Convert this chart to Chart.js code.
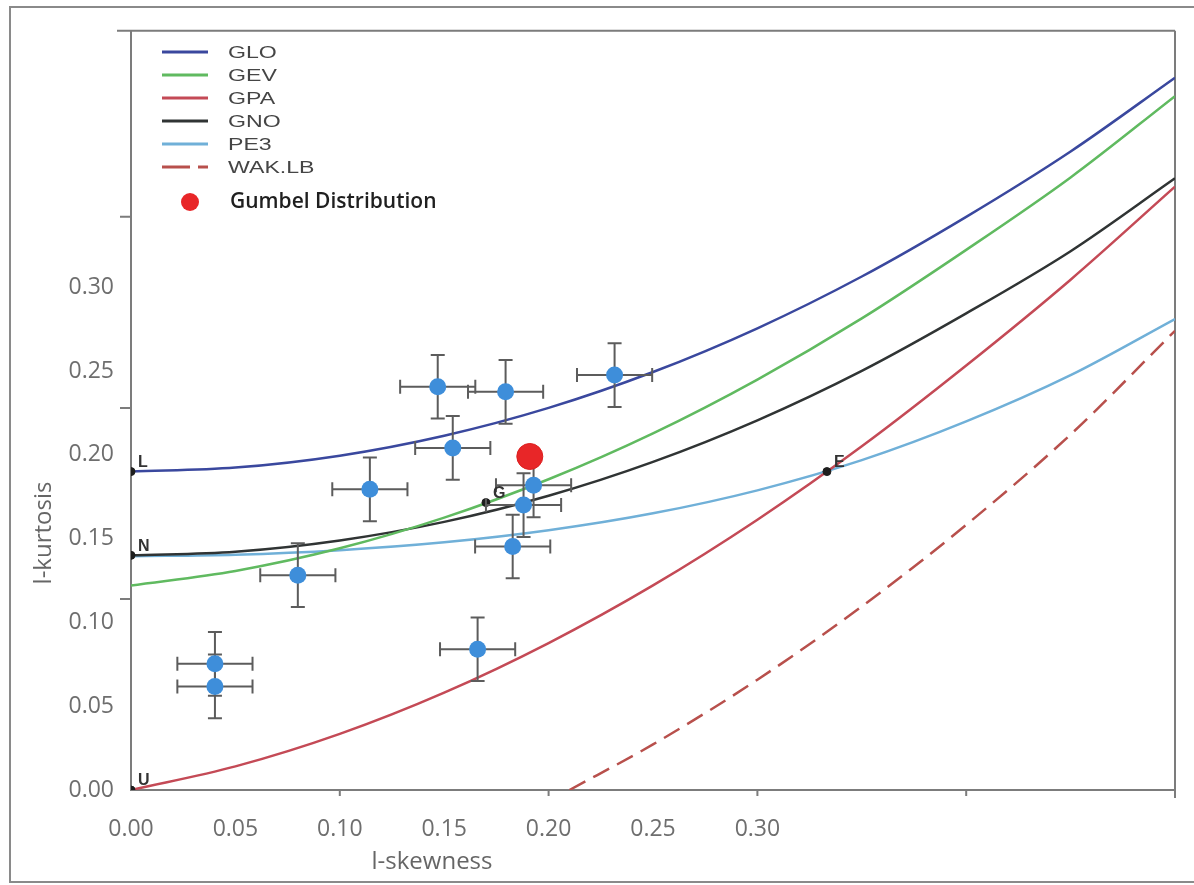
<!DOCTYPE html>
<html>
<head>
<meta charset="utf-8">
<script src="https://cdn.jsdelivr.net/npm/chart.js@4.4.1/dist/chart.umd.min.js"></script>
<style>
  html, body { margin: 0; padding: 0; background: #ffffff; }
  #wrap { width: 1194px; height: 885px; }
</style>
</head>
<body>
<div id="wrap"><canvas id="lmr" width="1194" height="885"></canvas></div>
<script>
// L-skewness grid used for the theoretical distribution curves
const tau3Grid = [0, 0.05, 0.10, 0.15, 0.20, 0.25, 0.30, 0.35, 0.40, 0.45, 0.50];

// L-kurtosis of each three-parameter distribution along the grid
const gloKurt = [0.190, 0.1924, 0.1995, 0.2114, 0.228, 0.2494, 0.2755, 0.3064, 0.342, 0.381, 0.425];
const gevKurt = [0.122, 0.1307, 0.1442, 0.1625, 0.1854, 0.2128, 0.2449, 0.2814, 0.3223, 0.3655, 0.414];
const gpaKurt = [0.000, 0.0141, 0.0335, 0.0581, 0.0877, 0.1221, 0.1613, 0.2051, 0.2533, 0.3045, 0.360];
const gnoKurt = [0.140, 0.1422, 0.1489, 0.1600, 0.1756, 0.1958, 0.2206, 0.2501, 0.2844, 0.3215, 0.365];
const pe3Kurt = [0.1395, 0.1404, 0.1431, 0.1478, 0.155, 0.1651, 0.1788, 0.1968, 0.2199, 0.2475, 0.281];

// Wakeby lower bound
const wakSkew = [0.21, 0.25, 0.30, 0.35, 0.40, 0.45, 0.50];
const wakKurt = [0.000, 0.0272, 0.0658, 0.1095, 0.1582, 0.2121, 0.274];

// Sample L-moment ratios of the sites, with their error half-widths
const siteSkew = [0.2316, 0.1469, 0.1794, 0.1541, 0.1928, 0.1880, 0.1828, 0.1144, 0.0799, 0.1660, 0.0402, 0.0402];
const siteKurt = [0.2476, 0.2406, 0.2376, 0.2041, 0.1818, 0.1700, 0.1453, 0.1794, 0.1282, 0.0840, 0.0753, 0.0618];
const siteSkewErr = [0.018, 0.018, 0.018, 0.018, 0.018, 0.018, 0.018, 0.018, 0.018, 0.018, 0.018, 0.018];
const siteKurtErr = [0.019, 0.019, 0.019, 0.019, 0.019, 0.019, 0.019, 0.019, 0.019, 0.019, 0.019, 0.019];

// Gumbel distribution point
const gumbelSkew = [0.191];
const gumbelKurt = [0.199];

// Two-parameter reference points: Logistic, Normal, Uniform, Gumbel, Exponential
const refNames = ['L', 'N', 'U', 'G', 'E'];
const refSkew = [0, 0, 0, 0.170, 0.3333];
const refKurt = [0.190, 0.140, 0.000, 0.1715, 0.190];

// Axis tick values and labels
const xTickValues = [0, 0.05, 0.10, 0.15, 0.20, 0.25, 0.30];
const xTickLabels = ['0.00', '0.05', '0.10', '0.15', '0.20', '0.25', '0.30'];
const yTickValues = [0, 0.05, 0.10, 0.15, 0.20, 0.25, 0.30];
const yTickLabels = ['0.00', '0.05', '0.10', '0.15', '0.20', '0.25', '0.30'];

// Minor tick marks of the underlying plot frame
const xFrameTicks = [0.1, 0.2, 0.3, 0.4];
const yFrameTicks = [0.114, 0.228, 0.342];

const pairs = (xs, ys) => xs.map((v, i) => ({ x: v, y: ys[i] }));

function curve(label, xs, ys, color, order, dash) {
  return {
    type: 'line',
    label: label,
    data: pairs(xs, ys),
    borderColor: color,
    backgroundColor: color,
    borderWidth: 2.5,
    borderDash: dash || [],
    pointRadius: 0,
    cubicInterpolationMode: 'monotone',
    fill: false,
    order: order,
    inLegend: true
  };
}

const datasets = [
  {
    type: 'scatter',
    label: 'Gumbel Distribution',
    data: pairs(gumbelSkew, gumbelKurt),
    pointRadius: 13,
    pointBackgroundColor: 'rgb(232,38,40)',
    pointBorderColor: 'rgb(220,30,30)',
    pointBorderWidth: 1,
    order: 0
  },
  {
    type: 'scatter',
    label: 'sites',
    data: pairs(siteSkew, siteKurt),
    errX: siteSkewErr,
    errY: siteKurtErr,
    pointRadius: 8.5,
    pointBackgroundColor: 'rgb(62,142,218)',
    pointBorderColor: 'rgb(62,142,218)',
    pointBorderWidth: 0,
    order: 1
  },
  {
    type: 'scatter',
    label: 'reference',
    data: pairs(refSkew, refKurt),
    refNames: refNames,
    pointRadius: 4,
    pointBackgroundColor: '#1e1e1e',
    pointBorderColor: '#1e1e1e',
    order: 2
  },
  curve('GLO', tau3Grid, gloKurt, 'rgb(58,72,158)', 3),
  curve('GEV', tau3Grid, gevKurt, 'rgb(96,186,96)', 4),
  curve('GPA', tau3Grid, gpaKurt, 'rgb(196,74,86)', 5),
  curve('GNO', tau3Grid, gnoKurt, 'rgb(48,52,52)', 6),
  curve('PE3', tau3Grid, pe3Kurt, 'rgb(112,176,216)', 7),
  curve('WAK.LB', wakSkew, wakKurt, 'rgb(184,80,76)', 8, [18, 9])
];

// Error bars are drawn just before the site markers so the markers sit on top
const errorBars = {
  id: 'errorBars',
  beforeDatasetDraw(chart, args) {
    const ds = chart.data.datasets[args.index];
    if (!ds.errX) return;
    const xs = chart.scales.x, ys = chart.scales.y, ctx = chart.ctx;
    const cap = 7;
    ctx.save();
    ctx.strokeStyle = '#5c5c5c';
    ctx.lineWidth = 2;
    ds.data.forEach((p, i) => {
      const px = xs.getPixelForValue(p.x), py = ys.getPixelForValue(p.y);
      const x0 = xs.getPixelForValue(p.x - ds.errX[i]);
      const x1 = xs.getPixelForValue(p.x + ds.errX[i]);
      const y0 = ys.getPixelForValue(p.y - ds.errY[i]);
      const y1 = ys.getPixelForValue(p.y + ds.errY[i]);
      ctx.beginPath();
      ctx.moveTo(x0, py); ctx.lineTo(x1, py);
      ctx.moveTo(px, y0); ctx.lineTo(px, y1);
      ctx.moveTo(x0, py - cap); ctx.lineTo(x0, py + cap);
      ctx.moveTo(x1, py - cap); ctx.lineTo(x1, py + cap);
      ctx.moveTo(px - cap, y0); ctx.lineTo(px + cap, y0);
      ctx.moveTo(px - cap, y1); ctx.lineTo(px + cap, y1);
      ctx.stroke();
    });
    ctx.restore();
  }
};

// Outer border, plot frame and the small frame ticks
const frame = {
  id: 'frame',
  beforeDraw(chart) {
    const ctx = chart.ctx;
    ctx.save();
    ctx.fillStyle = '#ffffff';
    ctx.fillRect(0, 0, chart.width, chart.height);
    ctx.strokeStyle = '#8a8a8a';
    ctx.lineWidth = 2;
    ctx.strokeRect(10, 7, chart.width + 20, chart.height - 10);
    ctx.restore();
  },
  beforeDatasetsDraw(chart) {
    const { ctx, chartArea: a, scales } = chart;
    ctx.save();
    ctx.strokeStyle = '#7c7c7c';
    ctx.lineWidth = 2;
    ctx.beginPath();
    ctx.moveTo(a.left - 14, a.top); ctx.lineTo(a.right, a.top);
    ctx.moveTo(a.right, a.top); ctx.lineTo(a.right, a.bottom + 8);
    yFrameTicks.forEach(v => {
      const py = scales.y.getPixelForValue(v);
      ctx.moveTo(a.left - 11, py); ctx.lineTo(a.left, py);
    });
    xFrameTicks.forEach(v => {
      const px = scales.x.getPixelForValue(v);
      ctx.moveTo(px, a.bottom); ctx.lineTo(px, a.bottom + 6);
    });
    ctx.stroke();
    ctx.restore();
  },
  afterDatasetsDraw(chart) {
    const ctx = chart.ctx;
    chart.data.datasets.forEach((ds, di) => {
      if (!ds.refNames) return;
      const meta = chart.getDatasetMeta(di);
      ctx.save();
      ctx.fillStyle = '#333333';
      ctx.font = 'bold 16px "Liberation Sans", Arial, sans-serif';
      ctx.textBaseline = 'middle';
      meta.data.forEach((pt, i) => {
        ctx.fillText(ds.refNames[i], pt.x + 7, pt.y - 9);
      });
      ctx.restore();
    });
  },
  afterDraw(chart) {
    const ctx = chart.ctx;
    ctx.save();
    ctx.fillStyle = '#666666';
    ctx.font = '24px "Open Sans", sans-serif';
    ctx.textAlign = 'center';
    ctx.textBaseline = 'middle';
    ctx.fillText('l-skewness', 432, 862);
    ctx.translate(44, 533);
    ctx.rotate(-Math.PI / 2);
    ctx.fillText('l-kurtosis', 0, 0);
    ctx.restore();
  }
};

// Legend in the upper-left corner of the plot
const cornerLegend = {
  id: 'cornerLegend',
  afterDraw(chart) {
    const ctx = chart.ctx;
    const rows = chart.data.datasets.filter(ds => ds.inLegend);
    ctx.save();
    rows.forEach((ds, i) => {
      const y = 52 + i * 23;
      ctx.strokeStyle = ds.borderColor;
      ctx.lineWidth = 3;
      ctx.setLineDash(ds.borderDash && ds.borderDash.length ? [28, 8] : []);
      ctx.beginPath();
      ctx.moveTo(162, y); ctx.lineTo(208, y);
      ctx.stroke();
      ctx.setLineDash([]);
      ctx.fillStyle = '#454545';
      ctx.font = '17px "Liberation Sans", Arial, sans-serif';
      ctx.textBaseline = 'middle';
      ctx.save();
      ctx.translate(228, y + 1);
      ctx.scale(1.36, 1);
      ctx.fillText(ds.label, 0, 0);
      ctx.restore();
    });
    const g = chart.data.datasets.find(ds => ds.label === 'Gumbel Distribution');
    ctx.fillStyle = g.pointBackgroundColor;
    ctx.beginPath();
    ctx.arc(190, 202, 9, 0, Math.PI * 2);
    ctx.fill();
    ctx.fillStyle = '#1f1f1f';
    ctx.font = '600 21px "Open Sans", sans-serif';
    ctx.textBaseline = 'middle';
    ctx.fillText(g.label, 230, 202);
    ctx.restore();
  }
};

const tickFont = { family: '"Open Sans", sans-serif', size: 23 };

new Chart(document.getElementById('lmr'), {
  data: { datasets: datasets },
  options: {
    responsive: false,
    animation: false,
    devicePixelRatio: 1,
    layout: { padding: { top: 20, right: 19, left: 0, bottom: 0 } },
    plugins: {
      legend: { display: false },
      tooltip: { enabled: false }
    },
    scales: {
      x: {
        type: 'linear',
        position: 'bottom',
        min: 0,
        max: 0.5,
        grid: { display: false, drawTicks: false },
        border: { display: true, color: '#7c7c7c', width: 2 },
        afterBuildTicks: s => { s.ticks = xTickValues.map(v => ({ value: v })); },
        afterFit: s => { s.height = 95; },
        ticks: {
          autoSkip: false,
          maxRotation: 0,
          padding: 26,
          color: '#6e6e6e',
          font: tickFont,
          callback: (v, i) => xTickLabels[i]
        }
      },
      y: {
        type: 'linear',
        position: 'left',
        min: 0,
        max: 0.453,
        grid: { display: false, drawTicks: false },
        border: { display: true, color: '#7c7c7c', width: 2 },
        afterBuildTicks: s => { s.ticks = yTickValues.map(v => ({ value: v })); },
        afterFit: s => { s.width = 131; },
        ticks: {
          autoSkip: false,
          padding: 17,
          color: '#6e6e6e',
          font: tickFont,
          callback: (v, i) => yTickLabels[i]
        }
      }
    }
  },
  plugins: [frame, errorBars, cornerLegend]
});
</script>
</body>
</html>
